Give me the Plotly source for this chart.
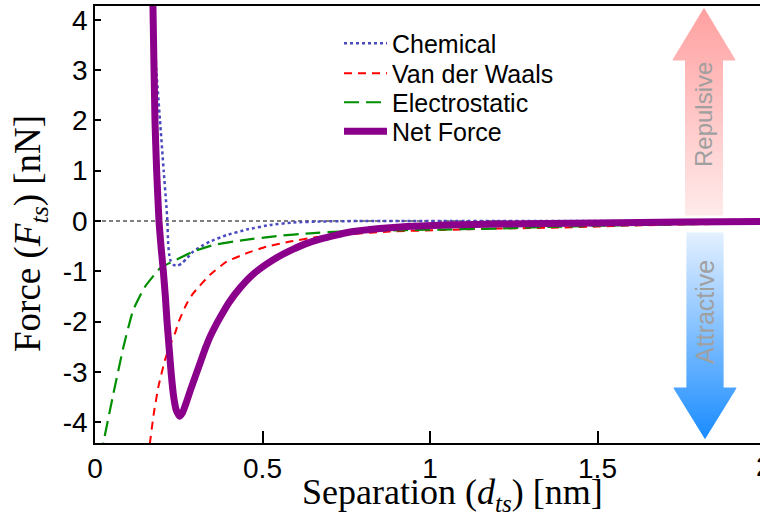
import plotly.graph_objects as go
import numpy as np

# ---------------- data ----------------
chem_x = [0.171, 0.174, 0.183, 0.194, 0.205, 0.212, 0.216, 0.218, 0.221, 0.226, 0.234, 0.245,
          0.258, 0.272, 0.293, 0.318, 0.343, 0.393, 0.453, 0.522, 0.592, 0.68, 0.80, 1.2, 1.6, 2.0]
chem_y = [4.6, 4.0, 3.0, 2.0, 1.0, 0.4, 0.0, -0.4, -0.65, -0.80, -0.87, -0.89,
          -0.85, -0.76, -0.61, -0.50, -0.41, -0.28, -0.17, -0.08, -0.03, -0.01, 0.0, 0.0, 0.0, 0.0]

vdw_x = [0.158, 0.164, 0.175, 0.189, 0.209, 0.224, 0.239, 0.250, 0.274, 0.293, 0.343, 0.393,
         0.453, 0.512, 0.582, 0.662, 0.761, 0.88, 1.03, 1.2, 1.4, 1.5, 1.6, 1.8, 2.0]
vdw_y = [-4.7, -4.41, -3.85, -3.30, -2.76, -2.47, -2.23, -2.00, -1.64, -1.44, -1.07, -0.81,
         -0.64, -0.51, -0.41, -0.32, -0.26, -0.21, -0.18, -0.15, -0.13, -0.11, -0.09, -0.065, -0.05]

elec_x = [0.018, 0.025, 0.055, 0.085, 0.114, 0.149, 0.194, 0.224, 0.293, 0.353, 0.443, 0.542,
          0.642, 0.731, 0.93, 1.21, 1.35, 1.5, 1.75, 2.0]
elec_y = [-4.7, -4.41, -3.43, -2.50, -1.77, -1.31, -0.94, -0.83, -0.61, -0.48, -0.38, -0.30,
          -0.245, -0.21, -0.18, -0.15, -0.12, -0.095, -0.065, -0.045]

net_x = [0.172, 0.173, 0.179, 0.184, 0.191, 0.197, 0.204, 0.210, 0.215, 0.221, 0.227, 0.235,
         0.242, 0.252, 0.262, 0.272, 0.284, 0.300, 0.315, 0.330, 0.345, 0.360, 0.375, 0.400,
         0.433, 0.470, 0.512, 0.550, 0.592, 0.630, 0.672, 0.720, 0.761, 0.85, 0.93, 1.05,
         1.21, 1.5, 1.75, 2.0]
net_y = [4.6, 4.27, 2.0, 1.0, 0.0, -0.5, -1.0, -1.5, -2.0, -2.5, -3.0, -3.5,
         -3.75, -3.88, -3.80, -3.62, -3.38, -3.08, -2.80, -2.52, -2.28, -2.08, -1.90, -1.62,
         -1.33, -1.07, -0.86, -0.70, -0.56, -0.45, -0.36, -0.28, -0.22, -0.15, -0.11, -0.08,
         -0.06, -0.04, -0.02, -0.01]

x_ticks = [0, 0.5, 1, 1.5]
x_tick_text = ["0", "0.5", "1", "1.5"]
y_ticks = [-4, -3, -2, -1, 0, 1, 2, 3, 4]
y_tick_text = ["-4", "-3", "-2", "-1", "0", "1", "2", "3", "4"]

# ---------------- layout geometry ----------------
W, H = 760, 514
ML, MR, MT, MB = 95, 0, 6, 71
PW, PH = W - ML - MR, H - MT - MB
X_RANGE = [0, PW / 335.0]
Y_RANGE = [-4.414, 4.274]

SANS = "Liberation Sans, Arial, sans-serif"
SERIF = "Liberation Serif, Times New Roman, serif"


def px(xp):
    return (xp - ML) / PW


def py(yp):
    return (H - MB - yp) / PH


fig = go.Figure()

fig.add_trace(go.Scatter(x=chem_x, y=chem_y, mode="lines", name="Chemical", legend="legend",
                         line=dict(color="#4a4ac0", width=2.5, dash="dot", shape="spline", smoothing=0.4)))
fig.add_trace(go.Scatter(x=vdw_x, y=vdw_y, mode="lines", name="Van der Waals", legend="legend2",
                         line=dict(color="#ff0000", width=2, dash="8px,6px", shape="spline", smoothing=0.4)))
fig.add_trace(go.Scatter(x=elec_x, y=elec_y, mode="lines", name="Electrostatic", legend="legend3",
                         line=dict(color="#008f00", width=2.2, dash="15px,7px", shape="spline", smoothing=0.4)))
fig.add_trace(go.Scatter(x=net_x, y=net_y, mode="lines", name="Net Force", legend="legend4",
                         line=dict(color="#8b008b", width=7, shape="spline", smoothing=0.4)))

shapes = []
# zero reference line
shapes.append(dict(type="line", xref="x", yref="y", x0=0, x1=2.0, y0=0, y1=0,
                   line=dict(color="black", width=1.2, dash="4px,3px"), layer="below"))


def hex2rgb(h):
    h = h.lstrip("#")
    return [int(h[i:i + 2], 16) for i in (0, 2, 4)]


def arrow(cx, tip_y, base_y, head_half, shaft_half, tail_y, c_tip, c_tail, step=2.0):
    """gradient arrow built from thin horizontal trapezoid strips (pixel coords)."""
    ct, cl = np.array(hex2rgb(c_tip)), np.array(hex2rgb(c_tail))
    lo, hi = min(tip_y, tail_y), max(tip_y, tail_y)
    ys = sorted(set(list(np.arange(lo, hi, step)) + [hi, base_y]))
    out = []

    def width(y, in_head):
        if in_head:
            return head_half * abs(y - tip_y) / abs(base_y - tip_y)
        return shaft_half

    for a, b in zip(ys[:-1], ys[1:]):
        mid = 0.5 * (a + b)
        in_head = (min(tip_y, base_y) <= mid <= max(tip_y, base_y))
        wa, wb = width(a, in_head), width(b, in_head)
        t = abs(mid - tip_y) / abs(tail_y - tip_y)
        c = ct + (cl - ct) * t
        col = "rgb(%d,%d,%d)" % tuple(int(round(v)) for v in c)
        a2, b2 = a - 0.4, b + 0.4
        path = "M %.5f,%.5f L %.5f,%.5f L %.5f,%.5f L %.5f,%.5f Z" % (
            px(cx - wa), py(a2), px(cx + wa), py(a2), px(cx + wb), py(b2), px(cx - wb), py(b2))
        out.append(dict(type="path", xref="paper", yref="paper", path=path,
                        fillcolor=col, line=dict(width=0), layer="below"))
    return out


shapes += arrow(704, 8, 60, 31.5, 19, 215, "#ffa0a0", "#ffeaea")
shapes += arrow(705, 439, 388, 31.5, 18.5, 233, "#1a8cff", "#e4f0ff")

annotations = [
    dict(text="Repulsive", xref="paper", yref="paper", x=px(704), y=py(115), textangle=-90,
         showarrow=False, font=dict(family=SANS, size=24, color="#a0a0a0"),
         xanchor="center", yanchor="middle"),
    dict(text="Attractive", xref="paper", yref="paper", x=px(705), y=py(312), textangle=-90,
         showarrow=False, font=dict(family=SANS, size=25, color="#a0a0a0"),
         xanchor="center", yanchor="middle"),
    dict(text="2", xref="paper", yref="paper", x=px(764), y=py(466), showarrow=False,
         font=dict(family=SANS, size=28, color="black"), xanchor="center", yanchor="middle"),
    dict(text="Separation (<i>d</i><sub><i>ts</i></sub>) [nm]", xref="paper", yref="paper",
         x=px(452), y=py(494), showarrow=False, font=dict(family=SERIF, size=36, color="black"),
         xanchor="center", yanchor="middle"),
    dict(text="Force (<i>F</i><sub><i>ts</i></sub>) [nN]", xref="paper", yref="paper",
         x=px(30), y=py(234), showarrow=False, textangle=-90,
         font=dict(family=SERIF, size=37, color="black"), xanchor="center", yanchor="middle"),
]


def legend_box(top_px):
    return dict(x=px(339), y=py(top_px), xanchor="left", yanchor="top",
                bgcolor="rgba(0,0,0,0)", borderwidth=0,
                font=dict(family=SANS, size=25, color="black"), itemwidth=43)


fig.update_layout(
    width=W, height=H,
    margin=dict(l=ML, r=MR, t=MT, b=MB, pad=0),
    paper_bgcolor="white", plot_bgcolor="white",
    shapes=shapes, annotations=annotations,
    showlegend=True,
    legend=legend_box(20.5),
    legend2=legend_box(50.5),
    legend3=legend_box(79.5),
    legend4=legend_box(108.5),
    xaxis=dict(range=X_RANGE, tickvals=x_ticks, ticktext=x_tick_text, ticks="inside",
               ticklen=12, tickwidth=2, tickcolor="black", showline=True, linecolor="black",
               linewidth=1.5, mirror=True, showgrid=False, zeroline=False,
               tickfont=dict(family=SANS, size=28, color="black")),
    yaxis=dict(range=Y_RANGE, tickvals=y_ticks, ticktext=y_tick_text, ticks="inside",
               ticklen=6, tickwidth=2, tickcolor="black", showline=True, linecolor="black",
               linewidth=1.5, mirror=False, showgrid=False, zeroline=False,
               tickfont=dict(family=SANS, size=28, color="black")),
)

fig.write_html("out.html")
